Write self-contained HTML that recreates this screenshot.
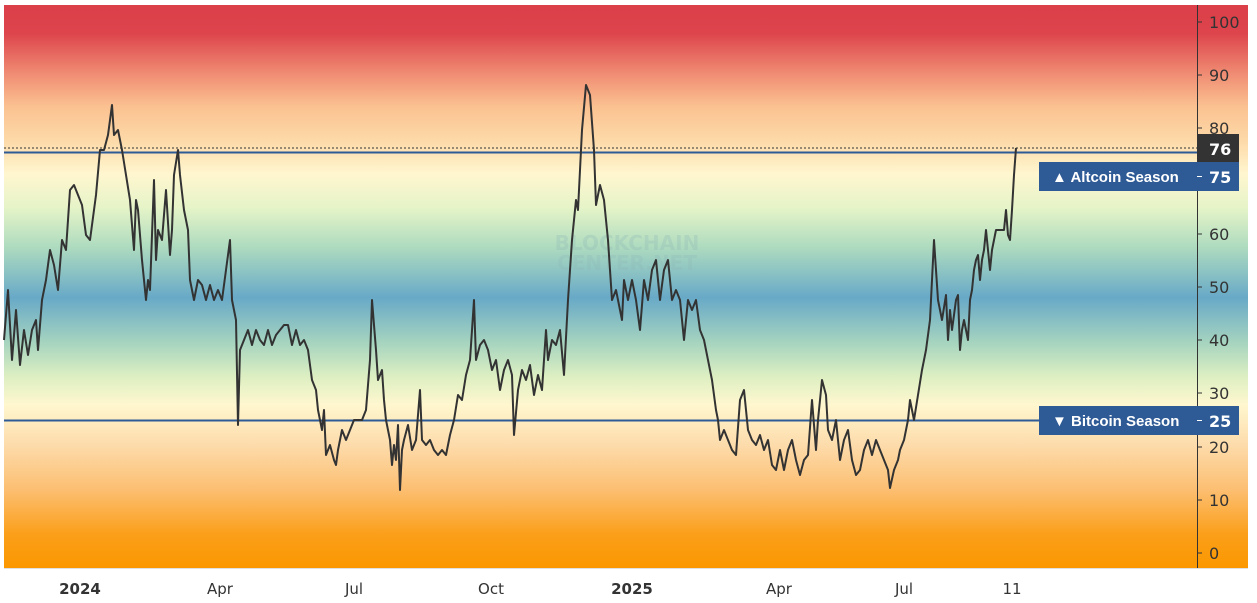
<!DOCTYPE html>
<html><head><meta charset="utf-8"><style>
html,body{margin:0;padding:0;background:#fff;}
svg{display:block;font-family:"DejaVu Sans","Liberation Sans",sans-serif;}
</style></head><body>
<svg width="1257" height="603" viewBox="0 0 1257 603" xmlns="http://www.w3.org/2000/svg">
<defs>
<linearGradient id="bg" x1="0" y1="5" x2="0" y2="568" gradientUnits="userSpaceOnUse">
<stop offset="0" stop-color="#db3f49"/>
<stop offset="0.05" stop-color="#dd444c"/>
<stop offset="0.12" stop-color="#ef8a72"/>
<stop offset="0.18" stop-color="#fbc190"/>
<stop offset="0.24" stop-color="#fdd9a8"/>
<stop offset="0.30" stop-color="#fff6cf"/>
<stop offset="0.36" stop-color="#e6f4c8"/>
<stop offset="0.43" stop-color="#aedbbf"/>
<stop offset="0.52" stop-color="#68a9c7"/>
<stop offset="0.60" stop-color="#a6d4bf"/>
<stop offset="0.66" stop-color="#ddefc2"/>
<stop offset="0.71" stop-color="#fff7cf"/>
<stop offset="0.78" stop-color="#fddcac"/>
<stop offset="0.86" stop-color="#fcbf72"/>
<stop offset="0.94" stop-color="#fb9f1a"/>
<stop offset="1" stop-color="#fb9800"/>
</linearGradient>
</defs>
<rect x="4" y="5" width="1244" height="563" fill="url(#bg)"/>
<line x1="4" y1="568.5" x2="1248" y2="568.5" stroke="#e0e0e0"/>
<text x="627" y="250" font-size="20" fill="#8fb9b8" opacity="0.3" text-anchor="middle" font-weight="bold">BLOCKCHAIN</text>
<text x="627" y="270" font-size="20" fill="#8fb9b8" opacity="0.3" text-anchor="middle" font-weight="bold">CENTER.NET</text>
<line x1="4" y1="148" x2="1197" y2="148" stroke="#333" stroke-dasharray="2,2" stroke-width="1"/>
<line x1="4" y1="152.5" x2="1197" y2="152.5" stroke="#2e5a96" stroke-width="2"/>
<line x1="4" y1="420.5" x2="1197" y2="420.5" stroke="#2e5a96" stroke-width="2"/>
<polyline fill="none" stroke="#333" stroke-width="2" stroke-linejoin="round" points="4,340 8,290 12,360 16,310 20,365 24,330 28,355 32,330 36,320 38,350 42,300 46,280 50,250 54,265 58,290 62,240 66,250 70,190 74,185 78,195 82,205 86,235 90,240 92,225 96,195 100,150 104,150 108,135 112,105 114,135 118,130 122,150 126,175 130,200 134,250 136,200 138,210 142,260 146,300 148,280 150,290 154,180 156,260 158,230 162,240 166,190 170,255 172,230 174,175 178,150 180,175 184,210 188,230 190,280 194,300 198,280 202,285 206,300 210,285 214,300 218,290 222,300 226,270 230,240 232,300 236,320 238,425 240,350 244,340 248,330 252,345 256,330 260,340 264,345 268,330 272,345 276,335 280,330 284,325 288,325 292,345 296,330 300,345 304,340 308,350 312,380 316,390 318,410 320,420 322,430 324,410 326,455 330,445 334,460 336,465 338,450 342,430 346,440 350,430 354,420 358,420 362,420 366,410 370,360 372,300 376,350 378,380 382,370 384,400 386,420 390,440 392,465 394,445 396,460 398,425 400,490 402,450 404,440 408,425 412,450 416,440 420,390 422,440 426,445 430,440 434,450 438,455 442,450 446,455 450,435 454,420 458,395 462,400 466,375 470,360 474,300 476,360 480,345 484,340 488,350 492,370 496,360 500,390 504,370 508,360 512,375 514,435 518,390 522,370 526,380 530,365 534,395 538,375 542,390 546,330 548,360 552,340 556,345 560,330 564,375 568,300 572,240 576,200 578,210 582,130 586,85 590,95 594,150 596,205 600,185 604,200 608,240 612,300 616,290 620,310 622,320 624,280 628,300 632,280 636,300 640,330 644,280 648,300 652,270 656,260 660,300 664,270 668,260 672,300 676,290 680,300 684,340 688,300 692,310 696,300 700,330 704,340 708,360 712,380 716,410 718,420 720,440 724,430 728,440 732,450 736,455 740,400 744,390 748,430 752,440 756,445 760,435 764,450 768,440 772,465 776,470 780,450 784,470 788,450 792,440 796,460 800,475 804,460 808,455 812,400 816,450 818,420 822,380 826,395 828,430 832,440 836,420 840,460 844,440 848,430 852,460 856,475 860,470 864,450 868,440 872,455 876,440 880,450 884,460 888,470 890,488 894,470 898,460 900,450 904,440 908,420 910,400 914,420 918,395 922,370 926,350 930,320 934,240 936,270 938,300 942,320 946,295 948,340 950,310 952,330 956,300 958,295 960,350 962,330 964,320 968,340 970,300 972,290 974,270 976,260 978,255 980,280 982,260 984,250 986,230 990,270 992,250 996,230 1000,230 1004,230 1006,210 1008,235 1010,240 1012,210 1014,175 1016,148"/>
<line x1="1197.5" y1="5" x2="1197.5" y2="568" stroke="#333" stroke-width="1"/>
<g font-size="16" fill="#333">
<g stroke="#333"><line x1="1197" y1="22" x2="1202" y2="22"/><line x1="1197" y1="75" x2="1202" y2="75"/><line x1="1197" y1="128" x2="1202" y2="128"/><line x1="1197" y1="234" x2="1202" y2="234"/><line x1="1197" y1="287" x2="1202" y2="287"/><line x1="1197" y1="340" x2="1202" y2="340"/><line x1="1197" y1="393" x2="1202" y2="393"/><line x1="1197" y1="447" x2="1202" y2="447"/><line x1="1197" y1="500" x2="1202" y2="500"/><line x1="1197" y1="553" x2="1202" y2="553"/></g>
<text x="1209" y="28">100</text><text x="1209" y="81">90</text><text x="1209" y="134">80</text><text x="1209" y="240">60</text><text x="1209" y="293">50</text><text x="1209" y="346">40</text><text x="1209" y="399">30</text><text x="1209" y="453">20</text><text x="1209" y="506">10</text><text x="1209" y="559">0</text>
</g>
<rect x="1197" y="134" width="42" height="28" fill="#333"/>
<text x="1209" y="155" font-size="16" fill="#fff" font-weight="bold">76</text>
<rect x="1039" y="162" width="200" height="29" fill="#2e5a96"/>
<text x="1052" y="182" font-size="15" fill="#fff" font-weight="bold" font-family="Liberation Sans, sans-serif">▲ Altcoin Season</text>
<text x="1209" y="183" font-size="16" fill="#fff" font-weight="bold">75</text>
<line x1="1197" y1="176.5" x2="1202" y2="176.5" stroke="#fff"/>
<rect x="1039" y="406" width="200" height="29" fill="#2e5a96"/>
<text x="1052" y="426" font-size="15" fill="#fff" font-weight="bold" font-family="Liberation Sans, sans-serif">▼ Bitcoin Season</text>
<text x="1209" y="427" font-size="16" fill="#fff" font-weight="bold">25</text>
<line x1="1197" y1="420.5" x2="1202" y2="420.5" stroke="#fff"/>
<g font-size="15" fill="#333" text-anchor="middle">
<text x="80" y="594" font-weight="bold">2024</text>
<text x="220" y="594">Apr</text>
<text x="354" y="594">Jul</text>
<text x="491" y="594">Oct</text>
<text x="632" y="594" font-weight="bold">2025</text>
<text x="779" y="594">Apr</text>
<text x="904" y="594">Jul</text>
<text x="1012" y="594">11</text>
</g>
</svg>
</body></html>
